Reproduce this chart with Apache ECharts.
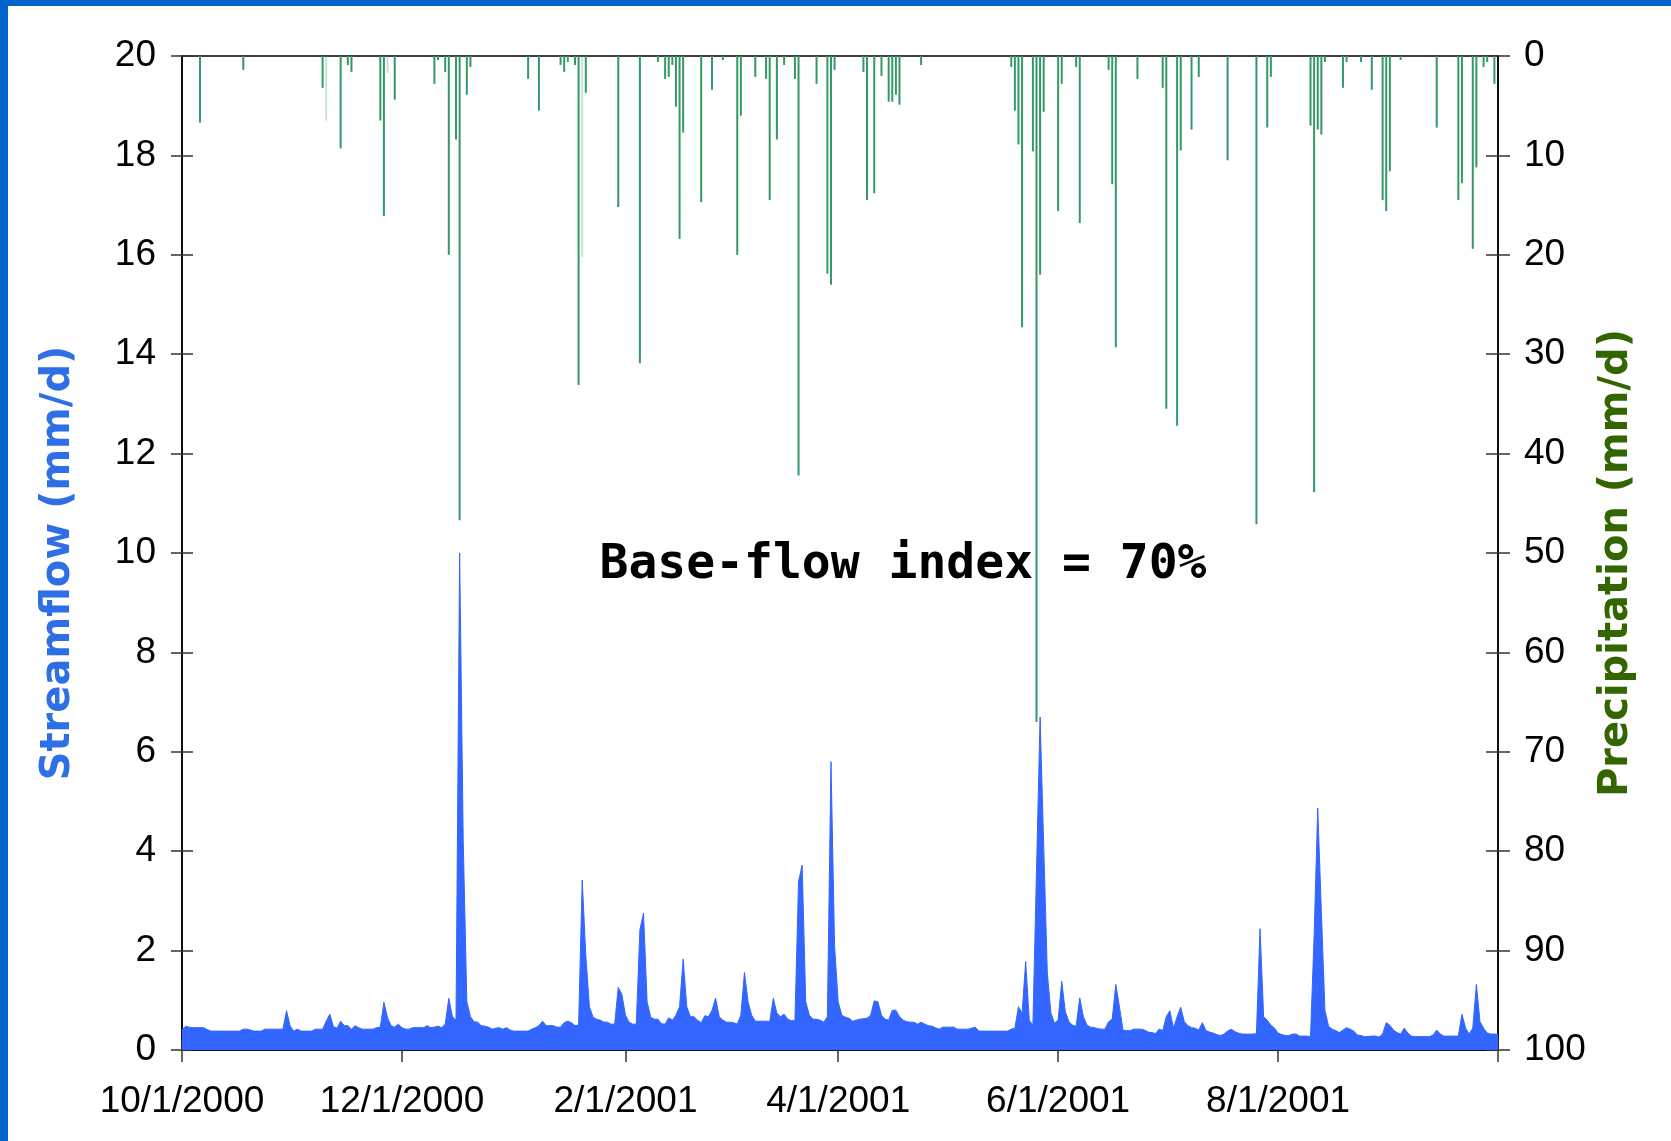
<!DOCTYPE html>
<html>
<head>
<meta charset="utf-8">
<script src="https://cdn.jsdelivr.net/npm/echarts@6/dist/echarts.min.js"></script>
<style>
html,body{margin:0;padding:0;background:#ffffff;}
#chart{width:1671px;height:1141px;}
</style>
</head>
<body>
<div id="chart"></div>
<script>
// ---------------- DATA ----------------
// Water year: 10/1/2000 .. 10/1/2001 (axis range)
const axisStart = '10/1/2000';
const axisEnd = '10/1/2001';
// x-axis labels and tick marks
const xTickLabels = ['10/1/2000', '12/1/2000', '2/1/2001', '4/1/2001', '6/1/2001', '8/1/2001'];
const xTickMarks = ['10/1/2000', '12/1/2000', '2/1/2001', '4/1/2001', '6/1/2001', '8/1/2001', '10/1/2001'];

// Daily streamflow (mm/d), one value per day starting 10/1/2000
const streamflowOct = [0.40,0.48,0.46,0.45,0.45,0.45,0.45,0.41,0.38,0.38,0.38,0.38,0.38,0.38,0.38,0.38,0.38,0.42,0.42,0.40,0.38,0.38,0.38,0.42,0.42,0.42,0.42,0.42,0.42,0.79,0.48];
const streamflowNov = [0.38,0.42,0.38,0.38,0.38,0.38,0.42,0.42,0.42,0.58,0.72,0.47,0.44,0.58,0.49,0.49,0.42,0.49,0.45,0.42,0.42,0.42,0.42,0.45,0.46,0.96,0.65,0.49,0.46,0.52];
const streamflowDec = [0.45,0.42,0.42,0.45,0.45,0.45,0.45,0.49,0.45,0.46,0.48,0.45,0.52,1.04,0.67,0.60,10.0,4.2,0.97,0.67,0.57,0.56,0.49,0.48,0.46,0.42,0.44,0.45,0.42,0.45,0.40];
const streamflowJan = [0.38,0.38,0.38,0.38,0.38,0.42,0.45,0.49,0.58,0.49,0.49,0.49,0.46,0.46,0.55,0.58,0.55,0.49,0.50,3.42,1.90,0.87,0.66,0.62,0.60,0.56,0.56,0.52,0.52,1.26,1.12];
const streamflowFeb = [0.70,0.56,0.52,0.52,2.42,2.75,0.97,0.66,0.62,0.62,0.53,0.52,0.65,0.60,0.70,0.87,1.83,0.87,0.67,0.67,0.60,0.55,0.69,0.67,0.80,1.04,0.67,0.60];
const streamflowMar = [0.56,0.56,0.55,0.52,0.70,1.56,0.97,0.70,0.58,0.58,0.58,0.58,0.57,1.04,0.74,0.67,0.72,0.62,0.59,0.59,3.39,3.72,0.97,0.70,0.62,0.62,0.60,0.56,0.67,5.80,2.08];
const streamflowApr = [0.97,0.70,0.66,0.64,0.58,0.60,0.62,0.63,0.64,0.70,0.99,0.97,0.70,0.62,0.60,0.80,0.80,0.67,0.60,0.57,0.56,0.56,0.52,0.56,0.52,0.49,0.48,0.45,0.42,0.46];
const streamflowMay = [0.46,0.46,0.46,0.42,0.42,0.42,0.42,0.44,0.46,0.38,0.38,0.38,0.38,0.38,0.38,0.38,0.38,0.38,0.42,0.44,0.87,0.74,1.78,0.60,0.50,3.60,6.70,4.10,1.55,0.74,0.54];
const streamflowJun = [0.60,1.38,0.77,0.57,0.50,0.48,1.05,0.67,0.50,0.46,0.45,0.43,0.42,0.42,0.57,0.62,1.32,0.87,0.40,0.39,0.39,0.42,0.42,0.42,0.40,0.36,0.35,0.33,0.42,0.39];
const streamflowJul = [0.67,0.79,0.44,0.67,0.86,0.57,0.49,0.45,0.44,0.40,0.55,0.39,0.36,0.34,0.31,0.29,0.32,0.38,0.42,0.37,0.34,0.32,0.32,0.32,0.32,0.33,2.44,0.67,0.60,0.50,0.44];
const streamflowAug = [0.34,0.31,0.29,0.29,0.32,0.32,0.28,0.28,0.28,0.27,2.30,4.87,2.80,0.80,0.48,0.42,0.39,0.35,0.40,0.45,0.42,0.38,0.30,0.29,0.27,0.27,0.28,0.28,0.26,0.32,0.55];
const streamflowSep = [0.50,0.40,0.35,0.32,0.44,0.34,0.28,0.27,0.27,0.27,0.27,0.27,0.30,0.40,0.32,0.28,0.28,0.28,0.28,0.28,0.72,0.44,0.32,0.44,1.32,0.57,0.44,0.34,0.32,0.32];
const streamflowOct2001 = [0.32];

// Daily precipitation (mm/d): day index counted from 10/1/2000, and amount
const precipDay = [5,17,39,44,46,47,55,56,59,70,71,73,74,76,77,79,80,96,99,105,106,107,109,110,112,121,
  127,132,134,135,136,137,138,139,144,147,150,154,155,159,162,163,165,167,170,171,176,179,180,181,
  189,190,192,194,196,197,198,199,205,230,231,232,233,236,237,238,239,243,244,248,249,257,258,259,265,
  272,273,276,277,280,282,290,298,301,302,313,314,315,316,317,322,323,327,330,333,334,335,338,348,
  354,355,358,359,361,362,364];
const precipMm = [6.7,1.4,3.2,9.3,0.9,1.6,6.5,16.1,4.4,2.8,0.4,1.6,20.0,8.4,46.7,3.9,1.1,2.3,5.5,0.9,1.6,0.6,0.9,33.1,3.7,15.2,
  30.9,0.6,2.3,2.1,0.9,5.1,18.4,7.7,14.7,3.4,0.4,20.0,6.0,2.1,2.3,14.5,8.4,0.9,2.3,42.2,2.8,21.9,23.0,1.4,
  1.6,14.5,13.8,2.0,4.6,4.6,3.9,4.9,0.9,1.1,5.5,8.9,27.3,9.6,67.0,22.0,5.6,15.6,2.8,1.1,16.8,1.4,12.9,29.3,2.3,
  3.2,35.5,37.2,9.5,7.4,2.1,10.5,47.1,7.2,2.1,7.0,43.9,7.4,7.9,0.6,3.2,0.6,0.6,3.4,14.5,15.6,11.6,0.4,7.2,
  14.5,12.8,19.4,11.2,1.1,0.6,2.8];
// faintly drawn precipitation days in the original
const precipFaintDay = [40, 57, 111];
const precipFaintMm = [6.5, 1.7, 20.2];

const annotationText = 'Base-flow index = 70%';
const leftAxisTitle = 'Streamflow (mm/d)';
const rightAxisTitle = 'Precipitation (mm/d)';

// ---------------- BUILD ----------------
const DAY_MS = 86400000;
function parseMDY(s) {
  const p = s.split('/').map(Number);
  return Date.UTC(p[2], p[0] - 1, p[1]);
}
const t0 = parseMDY(axisStart);
function dayIndex(s) { return Math.round((parseMDY(s) - t0) / DAY_MS); }
function dayLabel(i) {
  const d = new Date(t0 + Math.round(i) * DAY_MS);
  return (d.getUTCMonth() + 1) + '/' + d.getUTCDate() + '/' + d.getUTCFullYear();
}

const streamflow = [].concat(streamflowOct, streamflowNov, streamflowDec, streamflowJan, streamflowFeb,
  streamflowMar, streamflowApr, streamflowMay, streamflowJun, streamflowJul, streamflowAug, streamflowSep, streamflowOct2001);

const flowData = streamflow.map((v, i) => [i, v]);
const precipData = precipDay.map((d, i) => [d, precipMm[i]]);
precipFaintDay.forEach((d, i) => {
  precipData.push({ value: [d, precipFaintMm[i]], itemStyle: { color: 'rgba(51,153,102,0.28)' } });
});

const xMin = 0;
const xMax = dayIndex(axisEnd);
const labelDays = xTickLabels.map(dayIndex);
const tickDays = xTickMarks.map(dayIndex);

const FONT = '"Liberation Sans", Arial, Helvetica, sans-serif';
const axisColor = '#000000';
const tickColor = '#333333';
const gridBox = { left: 182, right: 173, top: 56, bottom: 91 };

const chart = echarts.init(document.getElementById('chart'), null, { renderer: 'canvas' });

chart.setOption({
  animation: false,
  backgroundColor: '#ffffff',
  grid: [
    Object.assign({ show: true, borderColor: '#000000', borderWidth: 1.5, backgroundColor: 'transparent' }, gridBox),
    Object.assign({ show: false }, gridBox)
  ],
  xAxis: [
    {
      gridIndex: 0, type: 'value', min: xMin, max: xMax, position: 'bottom',
      axisLine: { show: true, lineStyle: { color: axisColor, width: 1.5 } },
      axisTick: { show: true, customValues: tickDays, length: 12, lineStyle: { color: tickColor, width: 1.5 } },
      axisLabel: {
        show: true, customValues: labelDays, formatter: (v) => dayLabel(v),
        fontSize: 37, color: '#000', fontFamily: FONT, margin: 33, hideOverlap: false
      },
      splitLine: { show: false }
    },
    {
      gridIndex: 1, type: 'value', min: xMin, max: xMax, position: 'bottom',
      axisLine: { show: false },
      axisTick: { show: true, inside: true, customValues: tickDays, length: 11, lineStyle: { color: tickColor, width: 1.5 } },
      axisLabel: { show: false },
      splitLine: { show: false }
    }
  ],
  yAxis: [
    {
      gridIndex: 0, type: 'value', min: 0, max: 20, interval: 2, position: 'left',
      axisLine: { show: true, lineStyle: { color: axisColor, width: 1.5 } },
      axisTick: { show: true, length: 11, lineStyle: { color: tickColor, width: 1.5 } },
      axisLabel: { fontSize: 37, color: '#000', fontFamily: FONT, margin: 26 },
      splitLine: { show: false }
    },
    {
      gridIndex: 0, type: 'value', min: 0, max: 100, interval: 10, inverse: true, position: 'right',
      axisLine: { show: true, lineStyle: { color: axisColor, width: 1.5 } },
      axisTick: { show: true, length: 12, lineStyle: { color: tickColor, width: 1.5 } },
      axisLabel: { fontSize: 37, color: '#000', fontFamily: FONT, margin: 26 },
      splitLine: { show: false }
    },
    {
      gridIndex: 1, type: 'value', min: 0, max: 20, interval: 2, position: 'left',
      axisLine: { show: false },
      axisTick: { show: true, inside: true, length: 11, lineStyle: { color: tickColor, width: 1.5 } },
      axisLabel: { show: false }, splitLine: { show: false }
    },
    {
      gridIndex: 1, type: 'value', min: 0, max: 100, interval: 10, inverse: true, position: 'right',
      axisLine: { show: false },
      axisTick: { show: true, inside: true, length: 12, lineStyle: { color: tickColor, width: 1.5 } },
      axisLabel: { show: false }, splitLine: { show: false }
    }
  ],
  series: [
    {
      name: 'Streamflow', type: 'line', xAxisIndex: 0, yAxisIndex: 0,
      data: flowData, symbol: 'none', silent: true,
      lineStyle: { color: '#3366FF', width: 1 },
      areaStyle: { color: '#3366FF', opacity: 1 },
      z: 2
    },
    {
      name: 'Precipitation', type: 'bar', xAxisIndex: 0, yAxisIndex: 1,
      data: precipData, barWidth: 2, silent: true,
      itemStyle: { color: '#339966' },
      z: 3
    }
  ],
  graphic: [
    { type: 'rect', left: 0, top: 0, shape: { width: 1671, height: 6 }, style: { fill: '#0066CC' }, silent: true },
    { type: 'rect', left: 0, top: 0, shape: { width: 8, height: 1141 }, style: { fill: '#0066CC' }, silent: true },
    {
      type: 'text', x: 59, y: 563, rotation: Math.PI / 2,
      style: { text: leftAxisTitle, fill: '#2F6FE6', font: 'bold 40px "DejaVu Sans", Verdana, sans-serif', textAlign: 'center', textVerticalAlign: 'middle' }
    },
    {
      type: 'text', x: 1617, y: 563, rotation: Math.PI / 2,
      style: { text: rightAxisTitle, fill: '#336600', font: 'bold 40px "DejaVu Sans", Verdana, sans-serif', textAlign: 'center', textVerticalAlign: 'middle' }
    },
    {
      type: 'text', x: 903, y: 566,
      style: { text: annotationText, fill: '#000000', font: 'bold 48px "DejaVu Sans Mono", monospace', textAlign: 'center', textVerticalAlign: 'middle' },
      z: 10
    }
  ]
});
</script>
</body>
</html>
